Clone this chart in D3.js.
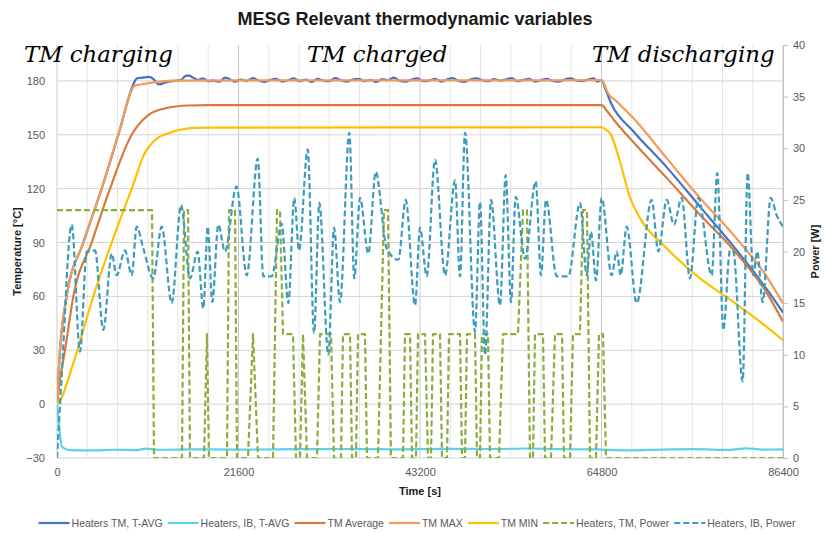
<!DOCTYPE html>
<html>
<head>
<meta charset="utf-8">
<script src="https://cdn.jsdelivr.net/npm/d3@7"></script>
<style>
body { margin: 0; background: #fff; }
</style>
</head>
<body>
<svg id="chart" width="825" height="533" font-family="Liberation Sans, Arial, sans-serif"></svg>
<script>
// values, [time s, value]
const heatersTmAvg = [[0,0],[357,30],[1150,60],[3134,90],[5315,120],[7300,150],[9280,180],[9500,181.5],[10200,181.8],[10900,182.2],[11500,181],[12100,178],[12700,178.8],[13300,179.6],[14000,180],[14800,180.6],[15300,182.8],[15700,183],[16200,181.8],[16800,180.6],[17400,181.4],[18000,179.8],[18600,180.2],[19300,179.6],[20000,181.8],[20500,181],[21200,179.6],[21900,180.8],[22600,180],[23300,181.6],[24000,180.2],[24700,179.4],[25400,180.6],[26100,181.2],[26800,179.6],[27500,180.4],[28200,181.4],[28900,179.8],[29600,180.8],[30300,179.4],[31000,181.2],[31700,180.2],[32400,179.8],[33100,181.6],[33800,180.4],[34500,179.6],[35200,180.8],[35900,181.2],[36600,179.8],[37300,180.6],[38000,179.4],[38700,181],[39400,180.4],[40100,181.8],[40800,180],[41500,179.6],[42200,180.8],[42900,181.4],[43600,179.8],[44300,180.2],[45000,181.2],[45700,179.6],[46400,180.8],[47100,181.6],[47800,180],[48500,179.4],[49200,180.8],[49900,181.4],[50600,180.4],[51300,179.8],[52000,181],[52700,180.2],[53400,180.8],[54100,181.6],[54800,179.8],[55500,180.6],[56200,181.2],[56900,179.6],[57600,180.4],[58300,181.2],[59000,180],[59700,179.6],[60400,180.8],[61100,181.4],[61800,180.2],[62500,179.8],[63200,180.8],[63900,181.4],[64300,179.6],[64800,180.5],[65300,175],[66000,167],[68580,152],[72550,132],[76520,110],[80490,88],[84460,64],[86400,51]];
const heatersIbAvg = [[0,0],[250,-12],[600,-24],[1500,-25.6],[4000,-25.8],[7000,-25.4],[9500,-25.6],[10500,-24.8],[12000,-25.4],[16000,-25.2],[22000,-25.3],[28000,-25.1],[34000,-25],[40000,-25.2],[46000,-24.9],[52000,-25],[56000,-24.7],[60000,-25.1],[64000,-25.2],[68000,-25.7],[72000,-25.3],[76000,-25.1],[80000,-25.5],[82000,-24.6],[84000,-25.3],[86400,-25.2]];
const tmAverage = [[0,0],[300,12],[952,30],[1944,60],[4125,90],[6307,120],[8886,150],[9680,155.5],[10870,161],[12850,164.7],[15630,166.3],[18000,166.5],[64800,166.5],[65500,163],[66500,157],[68580,146],[72550,126],[76520,105.5],[80490,86],[84460,62],[86400,46]];
const tmMax = [[0,0],[357,30],[1150,60],[3134,90],[5315,120],[7300,150],[9300,177.5],[10000,178],[12000,179.5],[14000,180.2],[30000,180.3],[50000,180.3],[64800,180.4],[65600,173],[66600,168.5],[68580,159.3],[72550,137],[76520,114.8],[80490,94.3],[84460,71],[86400,56]];
const tmMin = [[0,0],[600,4],[1200,12],[2420,30],[4320,60],[6510,90],[8890,120],[10470,140],[11660,147],[13650,151.5],[16420,153.8],[18000,154],[64800,154.2],[65400,152.5],[65810,151],[67000,135],[68190,115],[69380,103.6],[72550,86.8],[76520,70],[80490,57],[84460,43],[86400,35.5]];
const heatersTmPower = [[0,24],[11306,24],[11544,0],[14876,0],[15114,24],[15590,24],[15828,0],[17494,0],[17851,12],[18089,0],[20231,0],[20469,24],[21183,24],[21421,0],[22730,0],[23326,12],[23921,0],[25706,0],[26182,24],[26538,24],[26895,12],[28085,12],[28443,0],[28919,0],[29276,12],[29752,0],[30942,0],[31299,12],[32608,12],[32965,0],[33798,0],[34036,12],[34869,12],[35107,0],[35583,0],[35821,12],[36654,12],[36892,0],[38201,0],[38559,12],[38916,24],[39392,24],[39749,0],[41177,0],[41415,12],[42010,12],[42248,0],[42724,0],[42962,12],[43795,12],[44152,0],[44509,0],[44747,12],[45580,12],[45818,0],[46413,0],[46651,12],[47960,12],[48198,0],[48555,0],[48793,12],[49745,12],[49983,0],[50340,0],[50578,12],[51292,12],[51530,0],[52601,0],[53077,12],[54862,12],[55457,24],[55933,24],[56290,0],[56648,0],[56886,12],[57838,12],[58076,0],[58790,0],[59266,12],[60099,12],[60337,0],[61051,0],[61408,12],[62241,12],[62598,24],[63074,24],[63431,0],[64145,0],[64502,12],[64978,12],[65335,0],[86400,0]];
const heatersIbPower = [[0,0],[560,8],[1750,22.6],[2740,10.3],[3540,20],[4520,20.1],[5510,12.4],[6510,19.8],[7100,17.7],[8090,20.1],[8890,17.7],[9490,22.4],[10270,20.3],[11460,17.4],[12460,22.4],[13650,15],[14760,24.5],[15830,17.4],[16740,20],[17410,14.5],[17940,22.4],[18480,15.1],[19200,22.6],[19990,20],[21360,26.3],[22580,17.7],[23890,29],[24550,17.6],[25550,17.6],[26740,22.7],[27530,15],[28240,25.2],[28800,20.1],[29840,29.9],[30590,12.1],[31220,24.7],[32290,10],[32970,22.3],[33680,15.1],[34790,31.5],[35380,17.4],[36060,25.2],[37050,19.8],[37930,27.7],[39240,20.3],[40620,19.2],[41500,25],[42610,14.8],[43200,22.3],[44000,17.6],[44990,28.9],[46180,17.7],[47370,26.9],[47960,17.6],[48560,31.5],[49750,12.2],[50340,24.8],[50940,10],[51650,25],[52720,14.8],[53400,27.4],[54030,15.1],[54590,25.3],[55700,19.3],[56970,26.8],[57600,17.7],[58200,25],[59470,17.6],[60850,17.6],[62240,24.7],[63040,17.7],[63550,21.9],[64150,17.2],[64820,25.2],[66010,17.7],[66610,20],[67080,17.7],[67800,22.4],[68990,15],[70770,25],[71560,20],[72560,25],[73430,22.6],[74340,25.2],[75330,17.4],[76320,25.2],[77910,17.7],[78580,27.6],[79300,12.4],[80090,20.1],[80490,20],[81600,7.4],[82200,27.6],[82870,17.7],[83340,20],[83980,15.1],[84940,25.2],[85650,23.5],[86400,22.4]];

const tempTicks = [-30, 0, 30, 60, 90, 120, 150, 180];
const powerTicks = [0, 5, 10, 15, 20, 25, 30, 35, 40];
const timeTicks = [0, 21600, 43200, 64800, 86400];
// phase label and the time where it starts
const phases = [["TM charging", -3930], ["TM charged", 29750], ["TM discharging", 63670]];

const svg = d3.select("#chart");
const margin = {left: 57, right: 42, top: 45, bottom: 75};
const width = 825, height = 533;

const x = d3.scaleLinear().domain([0, 86400]).range([margin.left, width - margin.right]);
const yT = d3.scaleLinear().domain([-30, 200]).range([height - margin.bottom, margin.top]);
const yP = d3.scaleLinear().domain([0, 40]).range([height - margin.bottom, margin.top]);

// grid
const grid = svg.append("g");
grid.selectAll(".vminor")
    .data(d3.range(0, 86401, 3600).filter(d => d % 21600 !== 0))
    .enter().append("line")
    .attr("x1", d => x(d)).attr("x2", d => x(d))
    .attr("y1", yT(200)).attr("y2", yT(-30))
    .attr("stroke", "#e6e6e6");
grid.selectAll(".vmajor")
    .data(timeTicks)
    .enter().append("line")
    .attr("x1", d => x(d)).attr("x2", d => x(d))
    .attr("y1", yT(200)).attr("y2", yT(-30))
    .attr("stroke", "#c9c9c9");
grid.selectAll(".h")
    .data(tempTicks)
    .enter().append("line")
    .attr("x1", x(0)).attr("x2", x(86400))
    .attr("y1", d => yT(d)).attr("y2", d => yT(d))
    .attr("stroke", "#d4d4d4");

// axes
const left = svg.append("g")
    .attr("transform", `translate(${x(0) - 4},0)`)
    .call(d3.axisLeft(yT).tickValues(tempTicks).tickSize(0).tickPadding(8));
left.select(".domain").remove();

const right = svg.append("g")
    .attr("transform", `translate(${x(86400)},0)`)
    .call(d3.axisRight(yP).tickValues(powerTicks).tickSize(5).tickPadding(5));
right.select(".domain").attr("stroke", "#bfbfbf");
right.selectAll(".tick line").attr("stroke", "#bfbfbf");

const bottom = svg.append("g")
    .attr("transform", `translate(0,${yT(-30)})`)
    .call(d3.axisBottom(x).tickValues(timeTicks).tickFormat(d3.format("d")).tickSize(0).tickPadding(10));
bottom.select(".domain").remove();

svg.selectAll(".tick text")
    .attr("font-family", null)
    .attr("font-size", 11)
    .attr("fill", "#595959");
[left, right, bottom].forEach(g => g.attr("font-family", null));

// titles
svg.append("text")
    .attr("x", 415).attr("y", 25)
    .attr("text-anchor", "middle")
    .attr("font-size", 18).attr("font-weight", "bold").attr("fill", "#1a1a1a")
    .text("MESG Relevant thermodynamic variables");

svg.append("text")
    .attr("transform", `translate(21,${(yT(200) + yT(-30)) / 2}) rotate(-90)`)
    .attr("text-anchor", "middle")
    .attr("font-size", 11).attr("font-weight", "bold").attr("fill", "#1a1a1a")
    .text("Temperature [°C]");

svg.append("text")
    .attr("transform", `translate(819,${(yP(40) + yP(0)) / 2}) rotate(-90)`)
    .attr("text-anchor", "middle")
    .attr("font-size", 11).attr("font-weight", "bold").attr("fill", "#1a1a1a")
    .text("Power [W]");

svg.append("text")
    .attr("x", (x(0) + x(86400)) / 2).attr("y", 495)
    .attr("text-anchor", "middle")
    .attr("font-size", 11).attr("font-weight", "bold").attr("fill", "#1a1a1a")
    .text("Time [s]");

// phase labels
svg.selectAll(".phase")
    .data(phases)
    .enter().append("text")
    .attr("x", d => x(d[1]))
    .attr("y", 62)
    .attr("font-family", "DejaVu Serif, serif")
    .attr("font-style", "italic")
    .attr("font-size", 22.8)
    .attr("fill", "#000")
    .text(d => d[0]);

// series
svg.append("clipPath").attr("id", "plot")
    .append("rect")
    .attr("x", x(0)).attr("y", yT(200))
    .attr("width", x(86400) - x(0)).attr("height", yT(-30) - yT(200));

const series = [
    {name: "Heaters TM, T-AVG", data: heatersTmAvg, axis: yT, color: "#4472c4", dash: null, curve: d3.curveMonotoneX},
    {name: "Heaters, IB, T-AVG", data: heatersIbAvg, axis: yT, color: "#5ad3ea", dash: null, curve: d3.curveMonotoneX},
    {name: "TM Average", data: tmAverage, axis: yT, color: "#d9793a", dash: null, curve: d3.curveMonotoneX},
    {name: "TM MAX", data: tmMax, axis: yT, color: "#f39a5a", dash: null, curve: d3.curveMonotoneX},
    {name: "TM MIN", data: tmMin, axis: yT, color: "#ffc000", dash: null, curve: d3.curveMonotoneX},
    {name: "Heaters, TM, Power", data: heatersTmPower, axis: yP, color: "#8dab3f", dash: "6,3", curve: d3.curveLinear},
    {name: "Heaters, IB, Power", data: heatersIbPower, axis: yP, color: "#3d9cba", dash: "6,3", curve: d3.curveMonotoneX}
];

const lines = svg.append("g").attr("clip-path", "url(#plot)");
series.forEach(s => {
    const line = d3.line()
        .x(d => x(d[0]))
        .y(d => s.axis(d[1]))
        .curve(s.curve);
    lines.append("path")
        .datum(s.data)
        .attr("d", line)
        .attr("fill", "none")
        .attr("stroke", s.color)
        .attr("stroke-width", 2.2)
        .attr("stroke-dasharray", s.dash)
        .attr("stroke-linejoin", "round");
});

// legend
const legend = svg.append("g");
let lx = 0;
const items = legend.selectAll(".item")
    .data(series)
    .enter().append("g");
items.append("line")
    .attr("x1", 0).attr("x2", 31)
    .attr("stroke", d => d.color)
    .attr("stroke-width", 2.2)
    .attr("stroke-dasharray", d => d.dash);
items.append("text")
    .attr("x", 33).attr("y", 4)
    .attr("font-size", 10.5).attr("fill", "#595959")
    .text(d => d.name);
items.each(function () {
    const w = d3.select(this).select("text").node().getComputedTextLength();
    d3.select(this).attr("transform", `translate(${lx},0)`);
    lx += 33 + w + 5;
});
legend.attr("transform", `translate(${417 - (lx - 5) / 2},523)`);
</script>
</body>
</html>
